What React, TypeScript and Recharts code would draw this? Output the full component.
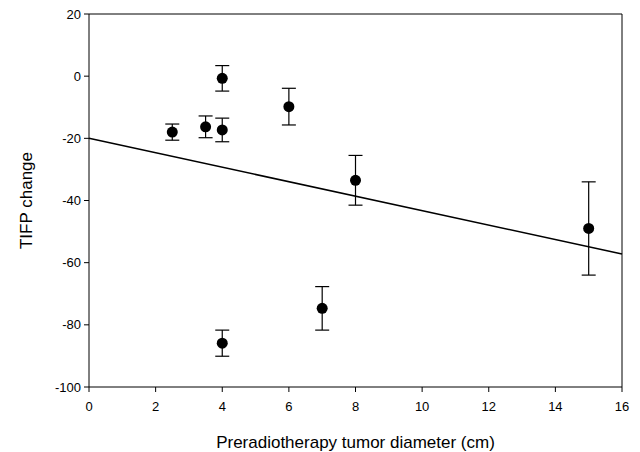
import {
  ScatterChart,
  Scatter,
  XAxis,
  YAxis,
  ErrorBar,
  ReferenceLine,
} from "recharts";

// tumor diameter (cm), TIFP change, error half-width
const diameters = [2.5, 3.5, 4, 4, 4, 6, 7, 8, 15];
const tifpChange = [-18, -16.3, -0.7, -17.3, -85.9, -9.8, -74.7, -33.5, -49];
const errors = [2.6, 3.5, 4.1, 3.8, 4.2, 5.9, 7, 8, 15];

const xTicks = [0, 2, 4, 6, 8, 10, 12, 14, 16];
const yTicks = [-100, -80, -60, -40, -20, 0, 20];

// regression line end points
const fitX = [0, 16];
const fitY = [-20, -57.2];

const points = diameters.map((d, i) => ({
  x: d,
  y: tifpChange[i],
  err: errors[i],
}));

const font = "'Liberation Sans', Arial, sans-serif";

const Dot = (props: any) => (
  <circle cx={props.cx} cy={props.cy} r={5.5} fill="#000" />
);

export default function App() {
  return (
    <div style={{ position: "absolute", left: 0, top: 0, background: "#fff" }}>
      <ScatterChart
        width={640}
        height={452}
        margin={{ top: 14, right: 18, left: 0, bottom: 0 }}
      >
        <XAxis
          type="number"
          dataKey="x"
          domain={[0, 16]}
          ticks={xTicks}
          interval={0}
          height={65}
          tickSize={5}
          tickMargin={10}
          stroke="#000"
          tick={{ fill: "#000", fontSize: 13, fontFamily: font }}
          label={{
            value: "Preradiotherapy tumor diameter (cm)",
            position: "insideBottom",
            offset: 4,
            fill: "#000",
            fontSize: 17,
            fontFamily: font,
          }}
        />
        <YAxis
          type="number"
          dataKey="y"
          domain={[-100, 20]}
          ticks={yTicks}
          interval={0}
          width={89}
          tickSize={5}
          tickMargin={3}
          stroke="#000"
          tick={{ fill: "#000", fontSize: 13, fontFamily: font }}
          label={{
            value: "TIFP change",
            angle: -90,
            position: "insideLeft",
            offset: 26,
            fill: "#000",
            fontSize: 17,
            fontFamily: font,
            style: { textAnchor: "middle" },
          }}
        />
        <ReferenceLine y={20} stroke="#000" ifOverflow="extendDomain" />
        <ReferenceLine x={16} stroke="#000" ifOverflow="extendDomain" />
        <ReferenceLine
          segment={[
            { x: fitX[0], y: fitY[0] },
            { x: fitX[1], y: fitY[1] },
          ]}
          stroke="#000"
          strokeWidth={1.5}
        />
        <Scatter data={points} shape={<Dot />} isAnimationActive={false}>
          <ErrorBar
            dataKey="err"
            direction="y"
            width={7}
            stroke="#000"
            strokeWidth={1.2}
            isAnimationActive={false}
          />
        </Scatter>
      </ScatterChart>
    </div>
  );
}
